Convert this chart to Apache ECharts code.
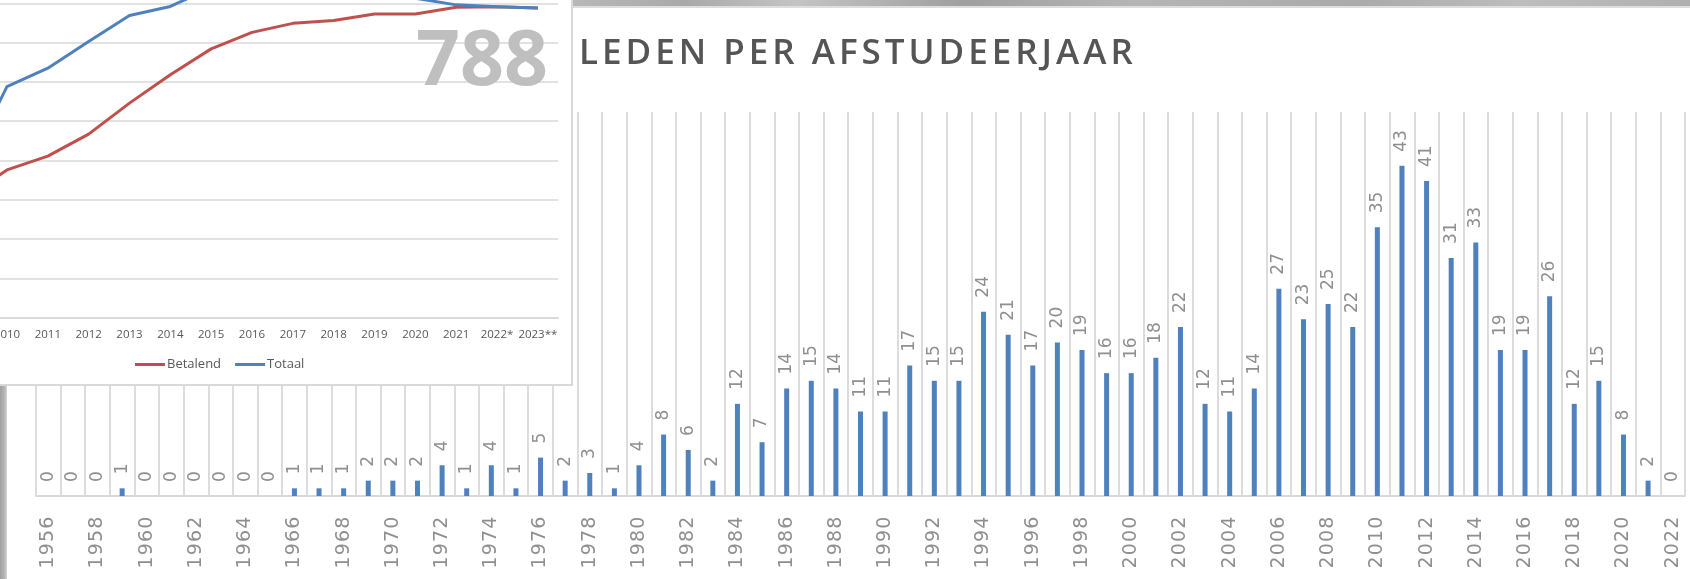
<!DOCTYPE html>
<html><head><meta charset="utf-8">
<script src="https://cdn.jsdelivr.net/npm/echarts@6/dist/echarts.min.js"></script>
<style>
html,body{margin:0;padding:0;background:#fff;overflow:hidden;width:1690px;height:579px}
#bars{position:absolute;left:0;top:0;width:1690px;height:579px}
#box{position:absolute;left:0;top:0;width:571px;height:384px;background:#fff;border-right:2px solid #d9d9d9;border-bottom:2px solid #d9d9d9;overflow:hidden}
#lines{position:absolute;left:-60px;top:-80px;width:631px;height:464px}
</style></head><body>
<div id="bars"></div><div id="box"><div id="lines"></div></div>
<script>
// ---- bar chart data: members per graduation year ----
const years = ['1956','1957','1958','1959','1960','1961','1962','1963','1964','1965',
  '1966','1967','1968','1969','1970','1971','1972','1973','1974','1975',
  '1976','1977','1978','1979','1980','1981','1982','1983','1984','1985',
  '1986','1987','1988','1989','1990','1991','1992','1993','1994','1995',
  '1996','1997','1998','1999','2000','2001','2002','2003','2004','2005',
  '2006','2007','2008','2009','2010','2011','2012','2013','2014','2015',
  '2016','2017','2018','2019','2020','2021','2022'];
const members = [0,0,0,1,0,0,0,0,0,0,
  1,1,1,2,2,2,4,1,4,1,
  5,2,3,1,4,8,6,2,12,7,
  14,15,14,11,11,17,15,15,24,21,
  17,20,19,16,16,18,22,12,11,14,
  27,23,25,22,35,43,41,31,33,19,
  19,26,12,15,8,2,0];

// ---- line chart data (overlay, partly cut off) ----
const lineYears = ['2009','2010','2011','2012','2013','2014','2015','2016','2017','2018','2019','2020','2021','2022*','2023**'];
const betalend = [306,376,411,467,546,618,684,726,749,756,773,773,790,791,788];
const totaal   = [378,588,635,703,769,792,839,860,872,868,852,813,796,791,788];
const bigNumber = '788';
const titleText = 'LEDEN PER AFSTUDEERJAAR';

const spaced = (s, key) => s.split('').map(c => '{' + key + '|' + c + '}').join('');

const bars = echarts.init(document.getElementById('bars'));
bars.setOption({
  animation: false,
  title: {
    text: spaced(titleText, 't'), left: 577, top: 37, padding: 0,
    textStyle: { rich: { t: { fontFamily: 'Open Sans', fontWeight: 600, fontSize: 35, color: '#555555', padding: [0, 2.0, 0, 2.0] } } }
  },
  graphic: [
    { type: 'rect', silent: true, shape: { x: 573, y: 0, width: 1117, height: 6 },
      style: { fill: new echarts.graphic.LinearGradient(0, 0, 1, 0, [
        { offset: 0, color: '#b8b8b8' }, { offset: 0.1, color: '#a9a9a9' }, { offset: 0.2, color: '#c4c4c4' },
        { offset: 0.35, color: '#9f9f9f' }, { offset: 0.5, color: '#b5b5b5' }, { offset: 0.7, color: '#aaaaaa' },
        { offset: 0.85, color: '#bdbdbd' }, { offset: 1, color: '#b0b0b0' }]) } },
    { type: 'rect', silent: true, shape: { x: 573, y: 6, width: 1117, height: 2 }, style: { fill: '#dedede' } },
    { type: 'rect', silent: true, shape: { x: 0, y: 386, width: 7, height: 193 },
      style: { fill: new echarts.graphic.LinearGradient(0, 0, 1, 0, [
        { offset: 0, color: '#a0a0a0' }, { offset: 0.6, color: '#b4b4b4' }, { offset: 1, color: '#d4d4d4' }]) } }
  ],
  grid: { left: 36, right: 5, top: 112, bottom: 83 },
  xAxis: {
    type: 'category', data: years, boundaryGap: true,
    axisLine: { lineStyle: { color: '#d9d9d9', width: 2 } },
    axisTick: { show: false },
    splitLine: { show: true, interval: 0, lineStyle: { color: '#dcdcdc', width: 2 } },
    axisLabel: {
      interval: 1, rotate: 90, margin: 20,
      formatter: v => spaced(v, 'd'),
      rich: { d: { fontFamily: 'DejaVu Sans', fontSize: 19, color: '#8f8f8f', padding: [0, 0.6, 0, 0.6] } }
    }
  },
  yAxis: { type: 'value', min: 0, max: 50, show: false },
  series: [{
    type: 'bar', data: members, barWidth: 5,
    itemStyle: { color: '#4f81bd' },
    label: { show: true, position: 'top', distance: 14, rotate: 90, align: 'left', verticalAlign: 'middle',
      fontFamily: 'DejaVu Sans', fontSize: 17, color: '#8f8f8f' }
  }]
});

// line chart drawn in a larger canvas that is clipped by the white box (offset 60, 80)
const lines = echarts.init(document.getElementById('lines'));
lines.setOption({
  animation: false,
  grid: { left: 5.7, right: 12.7, top: 4.7, bottom: 66.3 },
  legend: {
    data: ['Betalend', 'Totaal'], left: 195, top: 438, icon: 'rect', itemWidth: 30, itemHeight: 3, itemGap: 14, padding: 0,
    textStyle: { fontFamily: 'Open Sans', fontSize: 13, color: '#595959', padding: [0, 0, 0, -3] }
  },
  xAxis: {
    type: 'category', data: lineYears, boundaryGap: true,
    axisLine: { lineStyle: { color: '#d9d9d9', width: 1.5 } },
    axisTick: { show: false },
    axisLabel: { interval: 0, margin: 11, fontFamily: 'Open Sans', fontSize: 11.5, color: '#595959' }
  },
  yAxis: {
    type: 'value', min: 0, max: 1000, interval: 100,
    axisLabel: { show: false }, axisLine: { show: false }, axisTick: { show: false },
    splitLine: { lineStyle: { color: '#d9d9d9', width: 1.5 } }
  },
  graphic: [{
    type: 'text', z: 10, silent: true, x: 608, y: 105,
    style: { text: bigNumber, fontFamily: 'Open Sans', fontWeight: 'bold', fontSize: 77, fill: '#bfbfbf', align: 'right', verticalAlign: 'top' }
  }],
  series: [
    { name: 'Betalend', type: 'line', data: betalend, symbol: 'none', color: '#c0504d', lineStyle: { width: 3 } },
    { name: 'Totaal', type: 'line', data: totaal, symbol: 'none', color: '#4f81bd', lineStyle: { width: 3 } }
  ]
});
</script>
</body></html>
